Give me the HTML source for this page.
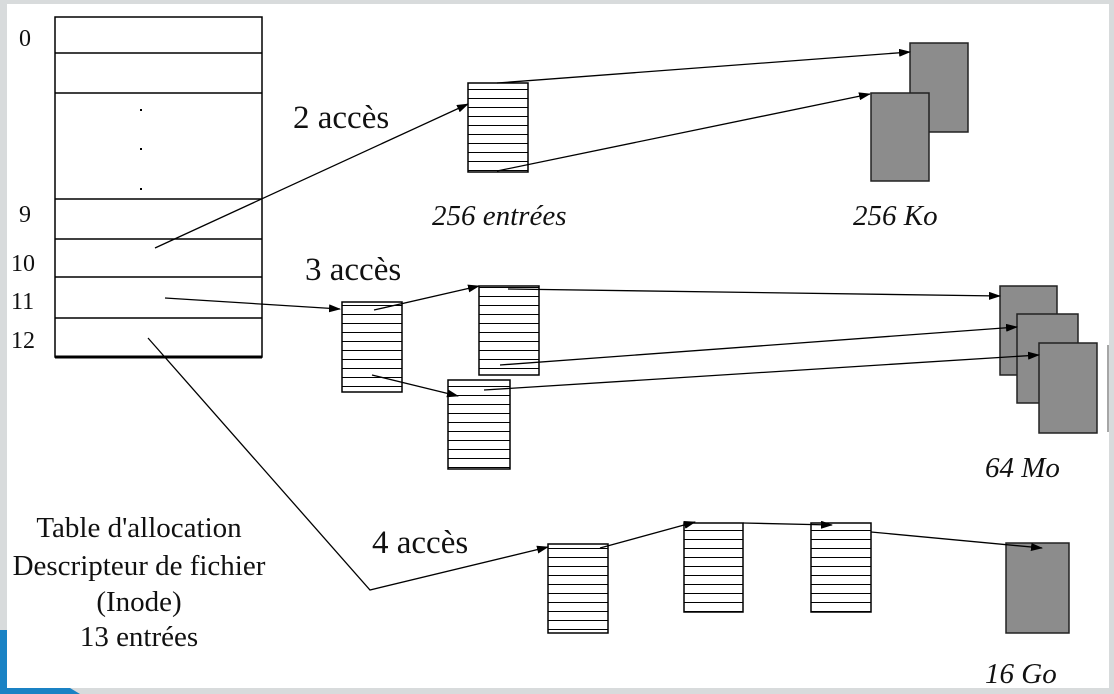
<!DOCTYPE html>
<html><head><meta charset="utf-8"><style>
html,body{margin:0;padding:0;background:#d8dbdc;}
svg{display:block}
text{font-family:"Liberation Serif",serif;fill:#111}
</style></head><body>
<svg width="1114" height="694" viewBox="0 0 1114 694" xmlns="http://www.w3.org/2000/svg">
<defs>
<marker id="a" markerWidth="12" markerHeight="8" refX="11" refY="4" orient="auto" markerUnits="userSpaceOnUse"><path d="M0,0 L12,4 L0,8 z" fill="#000"/></marker>
<pattern id="s" width="10" height="9" patternUnits="userSpaceOnUse"><rect width="10" height="9" fill="#fff"/><rect y="8" width="10" height="1.4" fill="#000"/></pattern>
</defs>
<rect x="0" y="0" width="1114" height="694" fill="#d8dbdc"/>
<rect x="7" y="4" width="1102" height="684" fill="#fff"/>
<path d="M0,630 L7,630 L7,688 L70,688 L80,694 L0,694 z" fill="#1a82c4"/>
<line x1="1108" y1="345" x2="1108" y2="432" stroke="#888" stroke-width="1.5"/>

<g stroke="#000" stroke-width="1.5" fill="none">
<rect x="55" y="17" width="207" height="340" fill="#fff"/>
<line x1="55" y1="53" x2="262" y2="53"/><line x1="55" y1="93" x2="262" y2="93"/>
<line x1="55" y1="199" x2="262" y2="199"/><line x1="55" y1="239" x2="262" y2="239"/>
<line x1="55" y1="277" x2="262" y2="277"/><line x1="55" y1="318" x2="262" y2="318"/>
<line x1="55" y1="357" x2="262" y2="357" stroke-width="3"/>
</g>
<g fill="#000"><rect x="140" y="109" width="2" height="2"/><rect x="140" y="148" width="2" height="2"/><rect x="140" y="188" width="2" height="2"/></g>
<g font-size="24"><text x="19" y="46">0</text><text x="19" y="222">9</text><text x="11" y="271">10</text><text x="11" y="309">11</text><text x="11" y="348">12</text></g>

<g stroke="#000" stroke-width="1.5" fill="url(#s)">
<rect x="468" y="83" width="60" height="89"/>
<rect x="342" y="302" width="60" height="90"/>
<rect x="479" y="286" width="60" height="89"/>
<rect x="448" y="380" width="62" height="89"/>
<rect x="548" y="544" width="60" height="89"/>
<rect x="684" y="523" width="59" height="89"/>
<rect x="811" y="523" width="60" height="89"/>
</g>
<g stroke="#222" stroke-width="1.5" fill="#8c8c8c">
<rect x="910" y="43" width="58" height="89"/>
<rect x="871" y="93" width="58" height="88"/>
<rect x="1000" y="286" width="57" height="89"/>
<rect x="1017" y="314" width="61" height="89"/>
<rect x="1039" y="343" width="58" height="90"/>
<rect x="1006" y="543" width="63" height="90"/>
</g>

<g stroke="#000" stroke-width="1.3" fill="none" marker-end="url(#a)">
<line x1="155" y1="248" x2="468" y2="104"/>
<line x1="497" y1="83" x2="910" y2="52"/>
<line x1="497" y1="171" x2="870" y2="94"/>
<line x1="165" y1="298" x2="340" y2="309"/>
<line x1="374" y1="310" x2="479" y2="286"/>
<line x1="372" y1="375" x2="458" y2="396"/>
<line x1="508" y1="289" x2="1000" y2="296"/>
<line x1="500" y1="365" x2="1017" y2="327"/>
<line x1="484" y1="390" x2="1039" y2="355"/>
<polyline points="148,338 370,590 548,547"/>
<line x1="600" y1="548" x2="695" y2="522"/>
<line x1="743" y1="523" x2="832" y2="525"/>
<line x1="871" y1="532" x2="1042" y2="548"/>
</g>

<g font-size="33">
<text x="293" y="128">2 accès</text>
<text x="305" y="280">3 accès</text>
<text x="372" y="553">4 accès</text>
</g>
<g font-size="29" font-style="italic">
<text x="432" y="225">256 entrées</text>
<text x="853" y="225">256 Ko</text>
<text x="985" y="477">64 Mo</text>
<text x="985" y="683">16 Go</text>
</g>
<g font-size="29" text-anchor="middle">
<text x="139" y="537">Table d'allocation</text>
<text x="139" y="575">Descripteur de fichier</text>
<text x="139" y="611">(Inode)</text>
<text x="139" y="646">13 entrées</text>
</g>
</svg>
</body></html>
